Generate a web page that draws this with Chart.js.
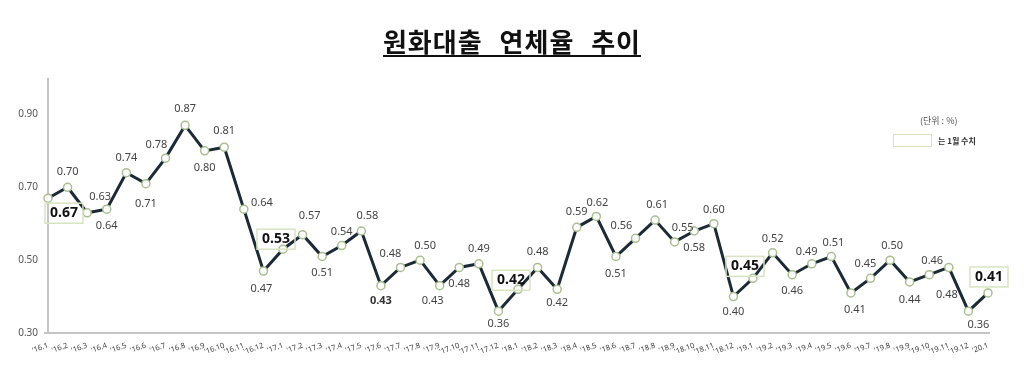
<!DOCTYPE html>
<html>
<head>
<meta charset="utf-8">
<script src="https://cdn.jsdelivr.net/npm/chart.js@4.4.0/dist/chart.umd.min.js"></script>
<style>
body { margin: 0; background: #fff; }
#wrap { position: relative; width: 1024px; height: 380px; }
#title {
    position: absolute; left: 0; top: 26px; width: 1024px; text-align: center;
    font: bold 26px "Noto Sans CJK KR", sans-serif; line-height: 30px; color: #111;
    letter-spacing: 1px; word-spacing: 10px;
}
#title span { text-decoration: underline; text-decoration-thickness: 2px; text-underline-offset: 3px; }
#unit { position: absolute; left: 920px; top: 114px; font: 9px "Noto Sans CJK KR", sans-serif; color: #555; }
#legbox { position: absolute; left: 893px; top: 134px; width: 37px; height: 11px; border: 1.5px solid #d9e3c3; }
#legtxt { position: absolute; left: 938px; top: 135px; font: bold 8px "Noto Sans CJK KR", sans-serif; color: #333; }
</style>
</head>
<body>
<div id="wrap">
    <canvas id="chart" width="1024" height="380"></canvas>
    <div id="title"><span>원화대출 연체율 추이</span></div>
    <div id="unit">(단위 : %)</div>
    <div id="legbox"></div>
    <div id="legtxt">는 1월 수치</div>
</div>
<script>
const months = [
    "'16.1", "'16.2", "'16.3", "'16.4", "'16.5", "'16.6", "'16.7", "'16.8", "'16.9", "'16.10", "'16.11", "'16.12",
    "'17.1", "'17.2", "'17.3", "'17.4", "'17.5", "'17.6", "'17.7", "'17.8", "'17.9", "'17.10", "'17.11", "'17.12",
    "'18.1", "'18.2", "'18.3", "'18.4", "'18.5", "'18.6", "'18.7", "'18.8", "'18.9", "'18.10", "'18.11", "'18.12",
    "'19.1", "'19.2", "'19.3", "'19.4", "'19.5", "'19.6", "'19.7", "'19.8", "'19.9", "'19.10", "'19.11", "'19.12",
    "'20.1"
];

const rates = [
    0.67, 0.70, 0.63, 0.64, 0.74, 0.71, 0.78, 0.87, 0.80, 0.81, 0.64, 0.47,
    0.53, 0.57, 0.51, 0.54, 0.58, 0.43, 0.48, 0.50, 0.43, 0.48, 0.49, 0.36,
    0.42, 0.48, 0.42, 0.59, 0.62, 0.51, 0.56, 0.61, 0.55, 0.58, 0.60, 0.40,
    0.45, 0.52, 0.46, 0.49, 0.51, 0.41, 0.45, 0.50, 0.44, 0.46, 0.48, 0.36,
    0.41
];

const yTicks = [0.30, 0.50, 0.70, 0.90];

// where each value label sits relative to its point (dx, dy)
const labelOffsets = [
    [16, 15], [0, -15], [13, -16], [0, 17], [0, -15], [0, 20], [-9, -13], [0, -16], [0, 17], [0, -16], [18, -6], [-2, 18],
    [-7, -10], [7, -19], [0, 16], [0, -14], [6, -15], [0, 15], [-10, -14], [5, -14], [-7, 15], [0, 16], [0, -15], [0, 13],
    [-7, -9], [0, -16], [0, 14], [0, -15], [1, -14], [0, 17], [-14, -12], [2, -15], [8, -14], [0, 17], [0, -14], [0, 15],
    [-8, -12], [0, -14], [0, 16], [-5, -12], [2, -14], [4, 17], [-5, -14], [2, -14], [0, 18], [3, -14], [-2, 27], [10, 14],
    [1, -16]
];
const boldOnly = [17];

const valueLabels = {
    id: "valueLabels",
    beforeDatasetsDraw(chart) {
        const ctx = chart.ctx;
        const a = chart.chartArea;
        const y = chart.scales.y;
        ctx.save();
        ctx.strokeStyle = "#c4c4c4";
        ctx.lineWidth = 2;
        ctx.beginPath();
        ctx.moveTo(a.left, y.getPixelForValue(1.0));
        ctx.lineTo(a.left, a.bottom);
        ctx.moveTo(a.left - 4, a.bottom);
        ctx.lineTo(a.right + 2, a.bottom);
        ctx.stroke();
        ctx.restore();
    },
    afterDatasetsDraw(chart) {
        const ctx = chart.ctx;
        const pts = chart.getDatasetMeta(0).data;
        ctx.save();
        ctx.textAlign = "center";
        ctx.textBaseline = "middle";
        pts.forEach((p, i) => {
            const txt = rates[i].toFixed(2);
            const x = p.x + labelOffsets[i][0];
            const yy = p.y + labelOffsets[i][1];
            const isJan = months[i].endsWith(".1");
            if (isJan) {
                ctx.font = "bold 14px 'Noto Sans', sans-serif";
                const w = ctx.measureText(txt).width + 10;
                ctx.strokeStyle = "#d9e3c3";
                ctx.lineWidth = 1.5;
                ctx.strokeRect(x - w / 2, yy - 10, w, 20);
                ctx.fillStyle = "#111";
            } else if (boldOnly.includes(i)) {
                ctx.font = "bold 11px 'Noto Sans', sans-serif";
                ctx.fillStyle = "#333";
            } else {
                ctx.font = "11px 'Noto Sans', sans-serif";
                ctx.fillStyle = "#444";
            }
            ctx.fillText(txt, x, yy);
        });
        ctx.restore();
    }
};

new Chart(document.getElementById("chart"), {
    type: "line",
    data: {
        labels: months,
        datasets: [{
            data: rates,
            borderColor: "#1c2a36",
            borderWidth: 3,
            tension: 0,
            pointRadius: 4,
            pointBorderWidth: 1.5,
            pointBackgroundColor: "#fff",
            pointBorderColor: "#a9bf91",
            clip: false
        }]
    },
    options: {
        responsive: false,
        animation: false,
        layout: { padding: { left: 8, right: 36, top: 78, bottom: 0 } },
        plugins: { legend: { display: false }, tooltip: { enabled: false } },
        scales: {
            x: {
                offset: false,
                grid: { display: false, drawTicks: false },
                border: { display: false },
                afterFit: s => { s.height = 47; },
                ticks: {
                    autoSkip: false,
                    minRotation: 20,
                    maxRotation: 20,
                    padding: 8,
                    color: "#444",
                    font: { size: 7.5, family: "'Noto Sans', sans-serif" }
                }
            },
            y: {
                min: 0.3,
                max: 1.0,
                grid: { display: false, drawTicks: false },
                border: { display: false },
                afterFit: s => { s.width = 40; },
                afterBuildTicks: s => { s.ticks = yTicks.map(v => ({ value: v })); },
                ticks: {
                    padding: 10,
                    color: "#555",
                    font: { size: 10, family: "'Noto Sans', sans-serif" },
                    callback: v => Number(v).toFixed(2)
                }
            }
        }
    },
    plugins: [valueLabels]
});
</script>
</body>
</html>
